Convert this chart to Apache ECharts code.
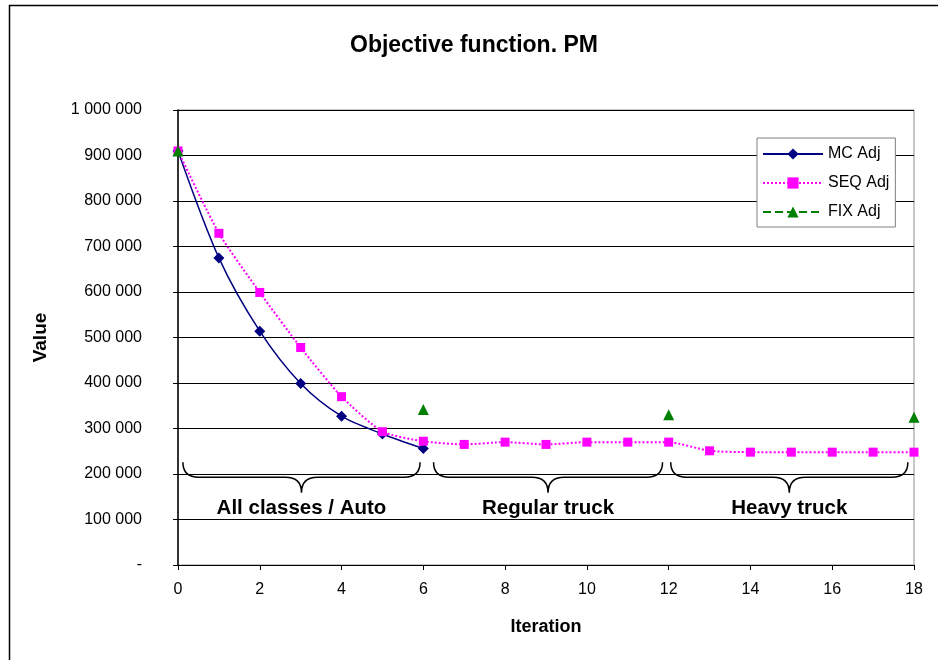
<!DOCTYPE html>
<html>
<head>
<meta charset="utf-8">
<script src="https://cdn.jsdelivr.net/npm/echarts@6/dist/echarts.min.js"></script>
<style>
  html, body { margin: 0; padding: 0; background: #fff; }
  #chart { width: 938px; height: 660px; }
</style>
</head>
<body>
<div id="chart"></div>
<script>
// values
var iterations = [0, 1, 2, 3, 4, 5, 6, 7, 8, 9, 10, 11, 12, 13, 14, 15, 16, 17, 18];
var mcAdj = [910000, 675000, 514000, 399000, 327000, 288000, 256000];
var seqAdj = [910000, 729000, 599000, 478000, 370000, 293000, 272000, 265000, 270000, 265000,
  270000, 270000, 270000, 251000, 248000, 248000, 248000, 248000, 248000];
var fixIter = [0, 6, 12, 18];
var fixAdj = [910000, 342000, 330000, 325000];
var phases = [
  [0.12, 5.92, 'All classes / Auto'],
  [6.25, 11.85, 'Regular truck'],
  [12.05, 17.85, 'Heavy truck']
];

function pairs(xs, ys) {
  return ys.map(function (v, i) { return [xs[i], v]; });
}

// fix series only has points at phase ends, nulls between
var fixData = iterations.map(function (it) {
  var k = fixIter.indexOf(it);
  return [it, k >= 0 ? fixAdj[k] : null];
});

function fmt(v) {
  if (v === 0) return '-';
  return String(v).replace(/\B(?=(\d{3})+(?!\d))/g, ' ');
}

var chart = echarts.init(document.getElementById('chart'));
var font = 'Arial, "Liberation Sans", sans-serif';

function renderBrace(params, api) {
  var x0 = api.value(0), x1 = api.value(1), xm = (x0 + x1) / 2;
  var a = api.coord([x0, 226000]);
  var b = api.coord([x1, 226000]);
  var mid = api.coord([xm, 193000])[1];
  var tip = api.coord([xm, 159000]);
  var txt = api.coord([xm, 125000]);
  var r = 16;
  var d = 'M' + a[0] + ',' + a[1] +
    ' Q' + a[0] + ',' + mid + ' ' + (a[0] + r) + ',' + mid +
    ' L' + (tip[0] - r) + ',' + mid +
    ' Q' + tip[0] + ',' + mid + ' ' + tip[0] + ',' + tip[1] +
    ' Q' + tip[0] + ',' + mid + ' ' + (tip[0] + r) + ',' + mid +
    ' L' + (b[0] - r) + ',' + mid +
    ' Q' + b[0] + ',' + mid + ' ' + b[0] + ',' + b[1];
  return {
    type: 'group',
    children: [{
      type: 'path',
      shape: { pathData: d },
      style: { fill: null, stroke: '#000', lineWidth: 1.5 }
    }, {
      type: 'text',
      x: txt[0], y: txt[1],
      style: {
        text: phases[params.dataIndex][2],
        fontFamily: font, fontWeight: 'bold', fontSize: 20.5,
        fill: '#000', align: 'center', verticalAlign: 'middle'
      }
    }]
  };
}

chart.setOption({
  backgroundColor: '#fff',
  animation: false,
  graphic: [{
    type: 'rect',
    shape: { x: 9.5, y: 5.5, width: 940, height: 670 },
    style: { fill: null, stroke: '#000', lineWidth: 1.5 }
  }],
  title: {
    text: 'Objective function. PM',
    left: 345, top: 29,
    textStyle: { fontFamily: font, fontWeight: 'bold', fontSize: 23, color: '#000' }
  },
  legend: {
    data: ['MC Adj', 'SEQ Adj', 'FIX Adj'],
    orient: 'vertical',
    left: 757, top: 138,
    padding: [8, 6, 7, 5],
    itemWidth: 60, itemHeight: 14, itemGap: 13,
    borderColor: '#808080', borderWidth: 1,
    backgroundColor: '#fff',
    textStyle: { fontFamily: font, fontSize: 16, color: '#000' }
  },
  grid: {
    left: 178, right: 24, top: 110, bottom: 95,
    show: true, borderColor: '#909090', borderWidth: 1
  },
  xAxis: {
    type: 'value', min: 0, max: 18, interval: 2,
    name: 'Iteration', nameLocation: 'middle', nameGap: 53,
    nameTextStyle: { fontFamily: font, fontWeight: 'bold', fontSize: 18, color: '#000' },
    axisLine: { lineStyle: { color: '#000', width: 1 } },
    axisTick: { show: true, length: 5, lineStyle: { color: '#000' } },
    axisLabel: { fontFamily: font, fontSize: 16, color: '#000', margin: 17 },
    splitLine: { show: false }
  },
  yAxis: {
    type: 'value', min: 0, max: 1000000, interval: 100000,
    name: 'Value', nameLocation: 'middle', nameGap: 128,
    nameTextStyle: { fontFamily: font, fontWeight: 'bold', fontSize: 19, color: '#000' },
    axisLine: { show: true, lineStyle: { color: '#000', width: 1.5 } },
    axisTick: { show: true, length: 5, lineStyle: { color: '#000' } },
    axisLabel: { fontFamily: font, fontSize: 16, color: '#000', margin: 36, formatter: fmt },
    splitLine: { show: true, lineStyle: { color: '#000', width: 1 } }
  },
  series: [{
    name: 'MC Adj', type: 'line',
    data: pairs(iterations, mcAdj),
    smooth: 0.3,
    symbol: 'diamond', symbolSize: 11,
    itemStyle: { color: '#000080' },
    lineStyle: { color: '#000080', width: 1.5 },
    z: 3
  }, {
    name: 'SEQ Adj', type: 'line',
    data: pairs(iterations, seqAdj),
    smooth: 0.2,
    symbol: 'rect', symbolSize: 9,
    itemStyle: { color: '#FF00FF' },
    lineStyle: { color: '#FF00FF', width: 2, type: 'dotted' },
    z: 4
  }, {
    name: 'FIX Adj', type: 'line',
    data: fixData,
    connectNulls: false,
    symbol: 'triangle', symbolSize: 11,
    itemStyle: { color: '#008000' },
    lineStyle: { color: '#008000', width: 2, type: 'dashed' },
    z: 5
  }, {
    name: 'phases', type: 'custom',
    data: phases.map(function (p) { return [p[0], p[1]]; }),
    encode: { x: [0, 1] },
    renderItem: renderBrace,
    silent: true,
    clip: false,
    z: 6
  }]
});
</script>
</body>
</html>
